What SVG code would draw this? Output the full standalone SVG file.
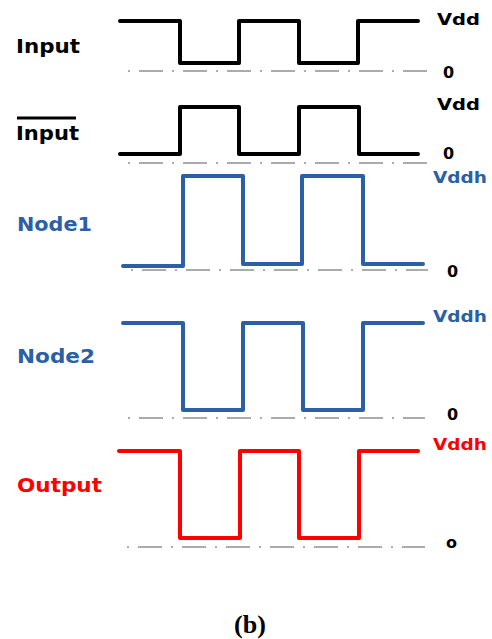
<svg xmlns="http://www.w3.org/2000/svg" width="492" height="639" viewBox="0 0 492 639">
<style>
.w{fill:none;stroke-width:4;stroke-linejoin:round;stroke-linecap:round}
.base{fill:none;stroke:#ababab;stroke-width:2.2;stroke-dasharray:2 9 24 9}
.lbl{font-family:"DejaVu Sans",Verdana,sans-serif;font-weight:bold;font-size:19px}
.val{font-family:"DejaVu Sans",Verdana,sans-serif;font-weight:bold;font-size:16px}
.k{fill:#000}.b{fill:#2b5fa6}.r{fill:#ff0000}
</style>
<rect width="492" height="639" fill="#fff"/>
<g id="baselines">
<line class="base" x1="128" y1="71" x2="427" y2="71"/>
<line class="base" x1="128" y1="163" x2="427" y2="163"/>
<line class="base" x1="131" y1="270" x2="428" y2="270"/>
<line class="base" x1="128" y1="418" x2="425" y2="418"/>
<line class="base" x1="127" y1="547" x2="425" y2="547"/>
</g>
<g id="input">
<path class="w" stroke="#000" d="M120 21H180V63H239V21H299V63H358V21H418"/>
<text class="lbl k" x="16" y="53" textLength="64" lengthAdjust="spacingAndGlyphs">Input</text>
<text class="val k" x="437" y="25" textLength="43" lengthAdjust="spacingAndGlyphs">Vdd</text>
<text class="val k" x="443" y="78">0</text>
</g>
<g id="input-bar">
<path class="w" stroke="#000" d="M120 154H180V107H239V154H299V107H359V154H418"/>
<line x1="17" y1="118" x2="76" y2="118" stroke="#000" stroke-width="3"/>
<text class="lbl k" x="16" y="140" textLength="63" lengthAdjust="spacingAndGlyphs">Input</text>
<text class="val k" x="437" y="110" textLength="43" lengthAdjust="spacingAndGlyphs">Vdd</text>
<text class="val k" x="443" y="159">0</text>
</g>
<g id="node1">
<path class="w" stroke="#2b5fa6" d="M123 266H183V176H243V264H302V176H363V264H423"/>
<text class="lbl b" x="17" y="231" textLength="75" lengthAdjust="spacingAndGlyphs">Node1</text>
<text class="val b" x="433" y="183" textLength="54" lengthAdjust="spacingAndGlyphs">Vddh</text>
<text class="val k" x="447" y="277">0</text>
</g>
<g id="node2">
<path class="w" stroke="#2b5fa6" d="M123 323H183V410H243V323H303V410H363V323H423"/>
<text class="lbl b" x="17" y="363" textLength="78" lengthAdjust="spacingAndGlyphs">Node2</text>
<text class="val b" x="433" y="322" textLength="54" lengthAdjust="spacingAndGlyphs">Vddh</text>
<text class="val k" x="447" y="420">0</text>
</g>
<g id="output">
<path class="w" stroke="#ff0000" d="M119 451H180V538H240V451H299V538H359V451H418"/>
<text class="lbl r" x="17" y="492" textLength="85" lengthAdjust="spacingAndGlyphs">Output</text>
<text class="val r" x="433" y="450" textLength="54" lengthAdjust="spacingAndGlyphs">Vddh</text>
<text class="val k" x="446" y="548" font-size="19">o</text>
</g>
<text x="250" y="633" text-anchor="middle" font-family="'Liberation Serif','Times New Roman',serif" font-weight="bold" font-size="26">(b)</text>
</svg>
